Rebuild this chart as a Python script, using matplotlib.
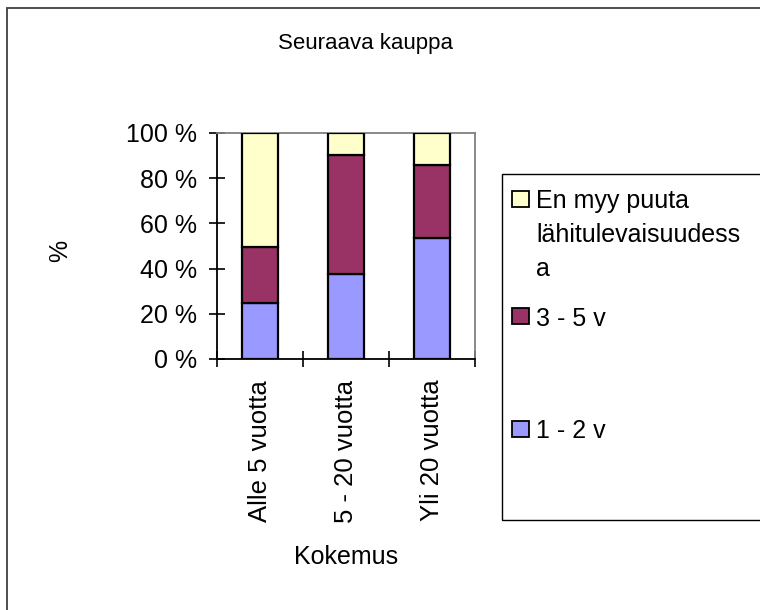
import numpy as np
import matplotlib.pyplot as plt
from matplotlib.patches import Rectangle

plt.rcParams['font.family'] = ['Liberation Sans', 'DejaVu Sans']

categories = ["Alle 5 vuotta", "5 - 20 vuotta", "Yli 20 vuotta"]
series_names = ["1 - 2 v", "3 - 5 v", "En myy puuta\nlähitulevaisuudess\na"]
v_1_2 = [24.6, 37.6, 53.5]
v_3_5 = [24.8, 52.7, 32.3]
v_none = [50.6, 9.7, 14.2]
colors = ["#9999FF", "#993366", "#FFFFCC"]
yticks = [0, 20, 40, 60, 80, 100]

W, H = 760, 610
FS = 18
fig = plt.figure(figsize=(W / 100, H / 100), dpi=100)
fig.patch.set_facecolor("white")

# outer chart border (right/bottom run off the image)
fig.patches.append(Rectangle((7 / W, -0.1), 1.2, 1.1 - 8 / H, transform=fig.transFigure,
                             fill=False, edgecolor="#404040", lw=1.3))

ax = fig.add_axes([217 / W, 1 - 359 / H, 258 / W, 226 / H])
x = np.arange(len(categories))
bottom = np.zeros(len(categories))
for vals, c in zip([v_1_2, v_3_5, v_none], colors):
    ax.bar(x, vals, width=0.41, bottom=bottom, color=c, edgecolor="black", lw=1.6, zorder=3)
    bottom += np.array(vals)

ax.set_xlim(-0.5, len(categories) - 0.5)
ax.set_ylim(0, 100)
ax.set_yticks(yticks)
ax.set_yticklabels([f"{t} %" for t in yticks], fontsize=FS)
ax.set_xticks(np.arange(len(categories) + 1) - 0.5)
ax.set_xticklabels([])
ax.set_xticks(x, minor=True)
ax.set_xticklabels(categories, minor=True, rotation=90, fontsize=18.5)
ax.tick_params(axis="x", which="minor", length=0, pad=15)
ax.tick_params(axis="both", which="major", direction="inout", length=11, width=1.2, color="black")
ax.tick_params(axis="y", pad=9)
for s in ["top", "right"]:
    ax.spines[s].set_color("#808080")
    ax.spines[s].set_linewidth(1.3)
for s in ["left", "bottom"]:
    ax.spines[s].set_color("black")
    ax.spines[s].set_linewidth(1.3)

fig.text(365 / W, 1 - 44 / H, "Seuraava kauppa", ha="center", va="center", fontsize=16)
fig.text(60 / W, 1 - 251 / H, "%", ha="center", va="center", rotation=90, fontsize=FS)
fig.text(346 / W, 1 - 557 / H, "Kokemus", ha="center", va="center", fontsize=FS)

# legend box
fig.patches.append(Rectangle((502 / W, 1 - 520 / H), 0.5, 346 / H, transform=fig.transFigure,
                             fill=False, edgecolor="black", lw=1.0))
entry_y = [429, 316, 199]
line_step = 34
for name, c, yc in zip(series_names, colors, entry_y):
    fig.patches.append(Rectangle((512 / W, 1 - (yc + 8) / H), 17 / W, 16 / H, transform=fig.transFigure,
                                 facecolor=c, edgecolor="black", lw=1.3))
    for i, line in enumerate(name.split("\n")):
        fig.text(536 / W, 1 - (yc + i * line_step) / H, line, ha="left", va="center_baseline",
                 fontsize=FS)

fig.savefig("out.png", dpi=100)
